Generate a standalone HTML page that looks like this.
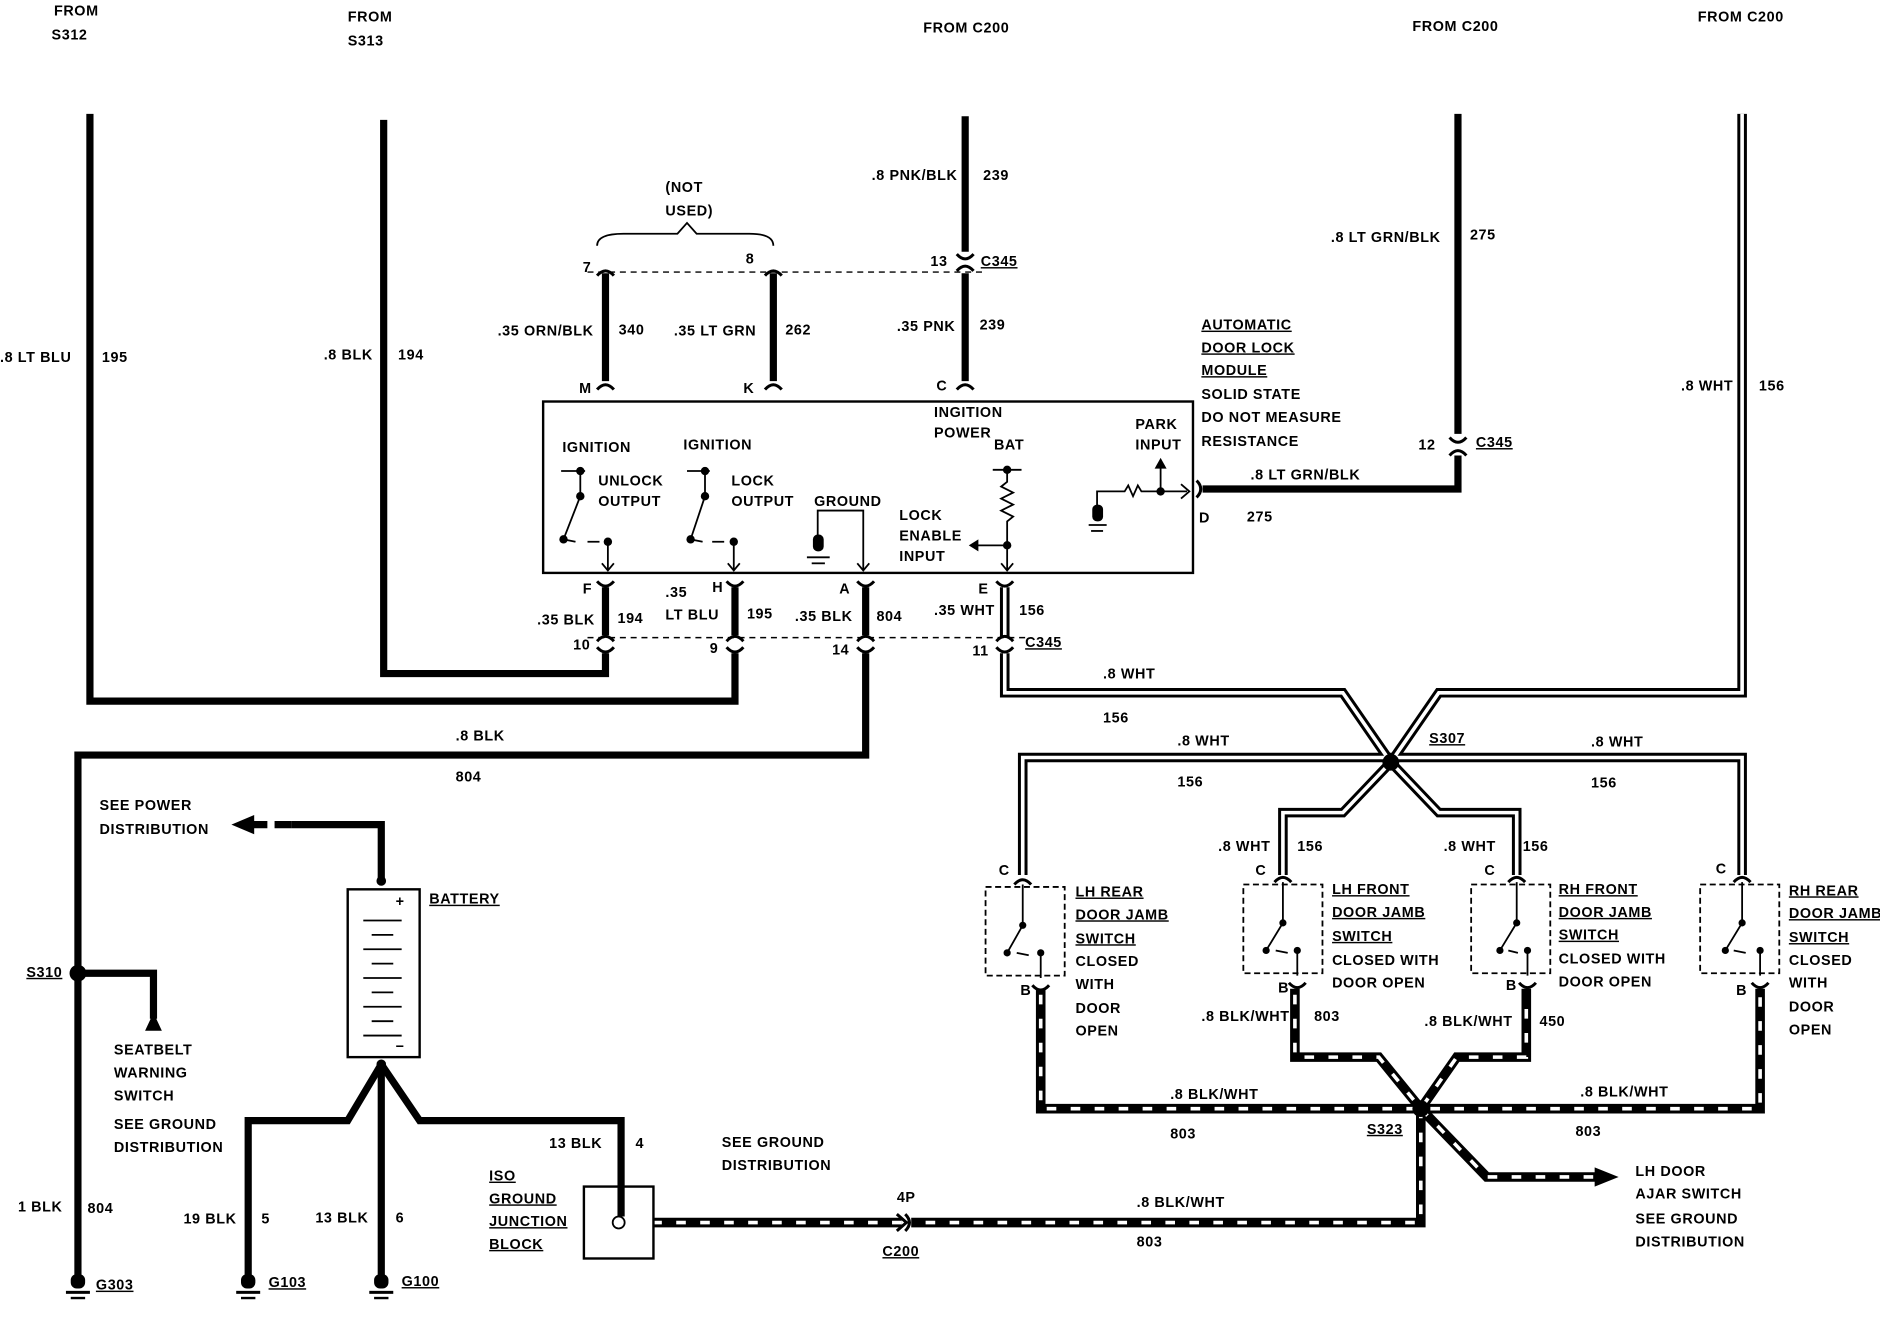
<!DOCTYPE html>
<html><head><meta charset="utf-8"><style>
html,body{margin:0;padding:0;background:#fff;}
svg{display:block}
text{font-family:"Liberation Sans",sans-serif;font-weight:bold;font-size:12px;fill:#000;letter-spacing:0.5px}
.u{text-decoration:underline}
</style></head><body>
<svg width="1880" height="1328" viewBox="0 0 1568 1108" preserveAspectRatio="none" xmlns="http://www.w3.org/2000/svg">
<g fill="none" stroke="#000" stroke-linejoin="miter">
<!-- solid black wires -->
<g stroke-width="6">
<polyline points="75,95 75,585 613,585 613,545"/>
<polyline points="320,100 320,562 505,562 505,545"/>
<polyline points="722,545 722,630 65,630 65,1065"/>
<line x1="805" y1="97" x2="805" y2="210"/>
<line x1="805" y1="228" x2="805" y2="318"/>
<line x1="505" y1="228" x2="505" y2="318"/>
<line x1="645" y1="228" x2="645" y2="318"/>
<polyline points="1216,95 1216,362"/>
<polyline points="1216,380 1216,408 1003,408"/>
<line x1="505" y1="490" x2="505" y2="530"/>
<line x1="613" y1="490" x2="613" y2="530"/>
<line x1="722" y1="490" x2="722" y2="530"/>
<polyline points="65,812 128,812 128,850"/>
<polyline points="318,735 318,688 243,688"/>
<polyline points="318,888 290,935 207,935 207,1065"/>
<line x1="318" y1="888" x2="318" y2="1065"/>
<polyline points="318,888 350,935 518,935 518,1015"/>
</g>
<!-- dashed arrow to power distribution -->
<line x1="243" y1="688" x2="210" y2="688" stroke-width="6" stroke-dasharray="14 6"/>
<polygon points="193,688 212,680 212,696" fill="#000" stroke="none"/>
<polygon points="128,845 121,860 135,860" fill="#000" stroke="none"/>
<!-- white wires -->
<g stroke-width="8">
<polyline id="w1" points="1453,95 1453,578 1200,578 1160,636 1120,578 838,578 838,545"/>
<line x1="838" y1="490" x2="838" y2="532"/>
<polyline points="853,730 853,632 1453,632 1453,730"/>
<polyline points="1070,730 1070,678 1120,678 1160,636 1200,678 1265,678 1265,730"/>
</g>
<g stroke-width="3" stroke="#fff">
<polyline points="1453,95 1453,578 1200,578 1160,636 1120,578 838,578 838,545"/>
<line x1="838" y1="490" x2="838" y2="532"/>
<polyline points="853,730 853,632 1453,632 1453,730"/>
<polyline points="1070,730 1070,678 1120,678 1160,636 1200,678 1265,678 1265,730"/>
</g>
<!-- BLK/WHT wires -->
<g stroke-width="8">
<polyline points="868,825 868,925 1185,925 1468,925 1468,825"/>
<polyline points="1080,825 1080,882 1150,882 1185,925 1215,882 1273,882 1273,825"/>
<polyline points="1185,925 1185,1020 760,1020"/>
<polyline points="1185,925 1240,982 1335,982"/>
<line x1="752" y1="1020" x2="545" y2="1020"/>
</g>
<g stroke-width="3" stroke="#fff" stroke-dasharray="8 12">
<polyline points="868,830 868,925 1185,925 1468,925 1468,830"/>
<polyline points="1080,830 1080,882 1150,882 1185,925 1215,882 1273,882 1273,830"/>
<polyline points="1185,925 1185,1020 760,1020"/>
<polyline points="1185,925 1240,982 1335,982"/>
<line x1="752" y1="1020" x2="545" y2="1020"/>
</g>
<polygon points="1350,982 1330,974 1330,990" fill="#000" stroke="none"/>
<!-- dashed connector lines -->
<g stroke-width="1.2" stroke-dasharray="5 4">
<line x1="490" y1="227" x2="820" y2="227"/>
<line x1="490" y1="532" x2="855" y2="532"/>
</g>
<path d="M498,205 Q498,195 520,195 L565,195 L573,186 L581,195 L625,195 Q645,195 645,205" stroke-width="1.5"/>
<!-- module box -->
<rect x="453" y="335" width="542" height="143" stroke-width="2"/>
<!-- switches in module -->
<g stroke-width="1.5">
<line x1="468" y1="393" x2="488" y2="393"/><line x1="484" y1="393" x2="484" y2="414"/><line x1="484" y1="414" x2="470" y2="450"/>
<path d="M470,450 L480,452 M490,452 L500,452" />
<line x1="507" y1="452" x2="507" y2="475"/>
<line x1="573" y1="393" x2="592" y2="393"/><line x1="588" y1="393" x2="588" y2="414"/><line x1="588" y1="414" x2="576" y2="450"/>
<path d="M576,450 L586,452 M594,452 L604,452"/>
<line x1="612" y1="452" x2="612" y2="475"/>
<polyline points="682,447 682,426 720,426 720,475"/>
<line x1="673" y1="465" x2="692" y2="465"/><line x1="677" y1="470" x2="688" y2="470"/>
<line x1="828" y1="392" x2="852" y2="392"/>
<polyline points="840,392 840,402 835,406 845,411 835,416 845,421 835,426 845,431 840,435 840,475"/>
<line x1="840" y1="455" x2="812" y2="455"/>
<polyline points="915,422 915,410 938,410 941,405 945,414 949,405 952,410 990,410"/>
<line x1="968" y1="410" x2="968" y2="388"/>
<line x1="908" y1="438" x2="923" y2="438"/><line x1="910" y1="443" x2="920" y2="443"/>
</g>
<g fill="#000" stroke="none">
<circle cx="484" cy="393" r="3.5"/><circle cx="484" cy="414" r="3.5"/><circle cx="470" cy="450" r="3.5"/><circle cx="507" cy="452" r="3.5"/>
<circle cx="588" cy="393" r="3.5"/><circle cx="588" cy="414" r="3.5"/><circle cx="576" cy="450" r="3.5"/><circle cx="612" cy="452" r="3.5"/>
<circle cx="840" cy="392" r="3.5"/><circle cx="840" cy="455" r="3.5"/><circle cx="968" cy="410" r="3.5"/>
<rect x="678" y="446" width="9" height="14" rx="4"/><rect x="911" y="421" width="9" height="14" rx="4"/>
<polygon points="808,455 816,450 816,460"/><polygon points="968,382 963,391 973,391"/>
<circle cx="1160" cy="636" r="7"/><circle cx="1185" cy="925" r="7"/><circle cx="65" cy="812" r="7"/><circle cx="318" cy="735" r="4"/><circle cx="318" cy="888" r="4"/>
</g>
<g stroke-width="1.5">
<path d="M502,470 L507,476 L512,470 M607,470 L612,476 L617,470 M715,470 L720,476 L725,470 M835,470 L840,476 L845,470 M985,404 L992,410 L985,416"/>
</g>
<!-- connector ends -->
<g stroke-width="2.5">
<path d="M498,230 Q505,222 512,230 M638,230 Q645,222 652,230 M798,212 Q805,220 812,212 M798,226 Q805,218 812,226 M498,325 Q505,317 512,325 M638,325 Q645,317 652,325 M798,325 Q805,317 812,325"/>
<path d="M498,485 Q505,493 512,485 M606,485 Q613,493 620,485 M715,485 Q722,493 729,485 M831,485 Q838,493 845,485"/>
<path d="M498,535 Q505,527 512,535 M606,535 Q613,527 620,535 M715,535 Q722,527 729,535 M831,535 Q838,527 845,535"/>
<path d="M498,540 Q505,548 512,540 M606,540 Q613,548 620,540 M715,540 Q722,548 729,540 M831,540 Q838,548 845,540"/>
<path d="M1209,365 Q1216,373 1223,365 M1209,380 Q1216,372 1223,380 M998,401 Q1005,408 998,415"/>
<path d="M755,1013 Q762,1020 755,1027 M748,1013 L756,1020 L748,1027"/>
</g>
<!-- door switches -->
<g stroke-width="1.5" stroke-dasharray="5 3">
<rect x="822" y="740" width="66" height="74"/>
<rect x="1037" y="738" width="66" height="74"/>
<rect x="1227" y="738" width="66" height="74"/>
<rect x="1418" y="738" width="66" height="74"/>
</g>
<g stroke-width="1.5">
<path d="M853,738 L853,772 L840,795 M868,795 L868,816 M848,795 L858,797"/>
<path d="M1070,736 L1070,770 L1056,793 M1082,793 L1082,814 M1064,793 L1074,795"/>
<path d="M1265,736 L1265,770 L1251,793 M1274,793 L1274,814 M1258,793 L1266,795"/>
<path d="M1453,736 L1453,770 L1439,793 M1468,793 L1468,814 M1446,793 L1456,795"/>
</g>
<g fill="#000" stroke="none">
<circle cx="853" cy="772" r="3"/><circle cx="840" cy="795" r="3"/><circle cx="868" cy="795" r="3"/>
<circle cx="1070" cy="770" r="3"/><circle cx="1056" cy="793" r="3"/><circle cx="1082" cy="793" r="3"/>
<circle cx="1265" cy="770" r="3"/><circle cx="1251" cy="793" r="3"/><circle cx="1274" cy="793" r="3"/>
<circle cx="1453" cy="770" r="3"/><circle cx="1439" cy="793" r="3"/><circle cx="1468" cy="793" r="3"/>
</g>
<g stroke-width="2.5">
<path d="M846,738 Q853,730 860,738 M861,822 Q868,830 875,822 M1063,736 Q1070,728 1077,736 M1075,820 Q1082,828 1089,820 M1258,736 Q1265,728 1272,736 M1267,820 Q1274,828 1281,820 M1446,736 Q1453,728 1460,736 M1461,820 Q1468,828 1475,820"/>
</g>
<!-- battery -->
<rect x="290" y="742" width="60" height="140" stroke-width="2"/>
<g stroke-width="1.5">
<path d="M303,768 H335 M310,780 H328 M303,792 H335 M310,804 H328 M303,816 H335 M310,828 H328 M303,840 H335 M310,852 H328 M303,864 H335"/>
</g>
<!-- junction block -->
<rect x="487" y="990" width="58" height="60" stroke-width="2"/>
<circle cx="516" cy="1020" r="5" fill="#fff" stroke-width="1.5"/>
<line x1="516" y1="1015" x2="516" y2="1010" stroke-width="1.5"/>
</g>
<!-- grounds -->
<g fill="#000">
<rect x="59" y="1063" width="12" height="12" rx="5"/><rect x="55" y="1077" width="20" height="2.5"/><rect x="59" y="1082" width="12" height="2"/>
<rect x="201" y="1063" width="12" height="12" rx="5"/><rect x="197" y="1077" width="20" height="2.5"/><rect x="201" y="1082" width="12" height="2"/>
<rect x="312" y="1063" width="12" height="12" rx="5"/><rect x="308" y="1077" width="20" height="2.5"/><rect x="312" y="1082" width="12" height="2"/>
</g>
<!-- text -->
<text x="45" y="13">FROM</text><text x="43" y="33">S312</text>
<text x="290" y="18">FROM</text><text x="290" y="38">S313</text>
<text x="770" y="27">FROM C200</text><text x="1178" y="26">FROM C200</text><text x="1416" y="18">FROM C200</text>
<text x="0" y="302">.8 LT BLU</text><text x="85" y="302">195</text>
<text x="270" y="300">.8 BLK</text><text x="332" y="300">194</text>
<text x="555" y="160">(NOT</text><text x="555" y="180">USED)</text>
<text x="727" y="150">.8 PNK/BLK</text><text x="820" y="150">239</text>
<text x="486" y="227">7</text><text x="622" y="220">8</text>
<text x="776" y="222">13</text><text x="818" y="222" class="u">C345</text>
<text x="415" y="280">.35 ORN/BLK</text><text x="516" y="279">340</text>
<text x="562" y="280">.35 LT GRN</text><text x="655" y="279">262</text>
<text x="748" y="276">.35 PNK</text><text x="817" y="275">239</text>
<text x="483" y="328">M</text><text x="620" y="328">K</text><text x="781" y="326">C</text>
<text x="1002" y="275" class="u">AUTOMATIC</text><text x="1002" y="294" class="u">DOOR LOCK</text><text x="1002" y="313" class="u">MODULE</text>
<text x="1002" y="333">SOLID STATE</text><text x="1002" y="352">DO NOT MEASURE</text><text x="1002" y="372">RESISTANCE</text>
<text x="1110" y="202">.8 LT GRN/BLK</text><text x="1226" y="200">275</text>
<text x="1402" y="326">.8 WHT</text><text x="1467" y="326">156</text>
<text x="1183" y="375">12</text><text x="1231" y="373" class="u">C345</text>
<text x="1043" y="400">.8 LT GRN/BLK</text><text x="1040" y="435">275</text><text x="1000" y="436">D</text>
<text x="779" y="348" font-size="11">INGITION</text><text x="779" y="365" font-size="11">POWER</text>
<text x="469" y="377" font-size="11">IGNITION</text><text x="570" y="375" font-size="11">IGNITION</text>
<text x="499" y="405" font-size="11">UNLOCK</text><text x="499" y="422" font-size="11">OUTPUT</text>
<text x="610" y="405" font-size="11">LOCK</text><text x="610" y="422" font-size="11">OUTPUT</text>
<text x="679" y="422" font-size="11">GROUND</text>
<text x="750" y="434" font-size="11">LOCK</text><text x="750" y="451" font-size="11">ENABLE</text><text x="750" y="468" font-size="11">INPUT</text>
<text x="829" y="375" font-size="11">BAT</text><text x="947" y="358" font-size="11">PARK</text><text x="947" y="375" font-size="11">INPUT</text>
<text x="486" y="495">F</text><text x="594" y="494">H</text><text x="700" y="495">A</text><text x="816" y="495">E</text>
<text x="555" y="498">.35</text><text x="555" y="517">LT BLU</text>
<text x="448" y="521">.35 BLK</text><text x="515" y="520">194</text><text x="623" y="516">195</text>
<text x="663" y="518">.35 BLK</text><text x="731" y="518">804</text>
<text x="779" y="513">.35 WHT</text><text x="850" y="513">156</text>
<text x="478" y="542">10</text><text x="592" y="545">9</text><text x="694" y="546">14</text><text x="811" y="547">11</text><text x="855" y="540" class="u">C345</text>
<text x="920" y="566">.8 WHT</text><text x="920" y="603">156</text>
<text x="1192" y="620" class="u">S307</text>
<text x="982" y="622">.8 WHT</text><text x="982" y="656">156</text>
<text x="1327" y="623">.8 WHT</text><text x="1327" y="657">156</text>
<text x="380" y="618">.8 BLK</text><text x="380" y="652">804</text>
<text x="83" y="676">SEE POWER</text><text x="83" y="696">DISTRIBUTION</text>
<text x="358" y="754" class="u">BATTERY</text><text x="330" y="756">+</text><text x="330" y="877">−</text>
<text x="22" y="815" class="u">S310</text>
<text x="95" y="880">SEATBELT</text><text x="95" y="899">WARNING</text><text x="95" y="918">SWITCH</text>
<text x="95" y="942">SEE GROUND</text><text x="95" y="961">DISTRIBUTION</text>
<text x="15" y="1011">1 BLK</text><text x="73" y="1012">804</text>
<text x="153" y="1021">19 BLK</text><text x="218" y="1021">5</text>
<text x="263" y="1020">13 BLK</text><text x="330" y="1020">6</text>
<text x="458" y="958">13 BLK</text><text x="530" y="958">4</text>
<text x="408" y="985" class="u">ISO</text><text x="408" y="1004" class="u">GROUND</text><text x="408" y="1023" class="u">JUNCTION</text><text x="408" y="1042" class="u">BLOCK</text>
<text x="602" y="957">SEE GROUND</text><text x="602" y="976">DISTRIBUTION</text>
<text x="748" y="1003">4P</text><text x="736" y="1048" class="u">C200</text>
<text x="948" y="1007">.8 BLK/WHT</text><text x="948" y="1040">803</text>
<text x="80" y="1076" class="u">G303</text><text x="224" y="1074" class="u">G103</text><text x="335" y="1073" class="u">G100</text>
<text x="833" y="730">C</text><text x="1047" y="730">C</text><text x="1238" y="730">C</text><text x="1431" y="729">C</text>
<text x="851" y="830">B</text><text x="1066" y="828">B</text><text x="1256" y="826">B</text><text x="1448" y="830">B</text>
<text x="897" y="748" class="u">LH REAR</text><text x="897" y="767" class="u">DOOR JAMB</text><text x="897" y="787" class="u">SWITCH</text>
<text x="897" y="806">CLOSED</text><text x="897" y="825">WITH</text><text x="897" y="845">DOOR</text><text x="897" y="864">OPEN</text>
<text x="1111" y="746" class="u">LH FRONT</text><text x="1111" y="765" class="u">DOOR JAMB</text><text x="1111" y="785" class="u">SWITCH</text>
<text x="1111" y="805">CLOSED WITH</text><text x="1111" y="824">DOOR OPEN</text>
<text x="1300" y="746" class="u">RH FRONT</text><text x="1300" y="765" class="u">DOOR JAMB</text><text x="1300" y="784" class="u">SWITCH</text>
<text x="1300" y="804">CLOSED WITH</text><text x="1300" y="823">DOOR OPEN</text>
<text x="1492" y="747" class="u">RH REAR</text><text x="1492" y="766" class="u">DOOR JAMB</text><text x="1492" y="786" class="u">SWITCH</text>
<text x="1492" y="805">CLOSED</text><text x="1492" y="824">WITH</text><text x="1492" y="844">DOOR</text><text x="1492" y="863">OPEN</text>
<text x="1016" y="710">.8 WHT</text><text x="1082" y="710">156</text>
<text x="1204" y="710">.8 WHT</text><text x="1270" y="710">156</text>
<text x="1002" y="852">.8 BLK/WHT</text><text x="1096" y="852">803</text>
<text x="1188" y="856">.8 BLK/WHT</text><text x="1284" y="856">450</text>
<text x="976" y="917">.8 BLK/WHT</text><text x="976" y="950">803</text>
<text x="1318" y="915">.8 BLK/WHT</text><text x="1314" y="948">803</text>
<text x="1140" y="946" class="u">S323</text>
<text x="1364" y="981">LH DOOR</text><text x="1364" y="1000">AJAR SWITCH</text><text x="1364" y="1021">SEE GROUND</text><text x="1364" y="1040">DISTRIBUTION</text>
</svg>
</body></html>
